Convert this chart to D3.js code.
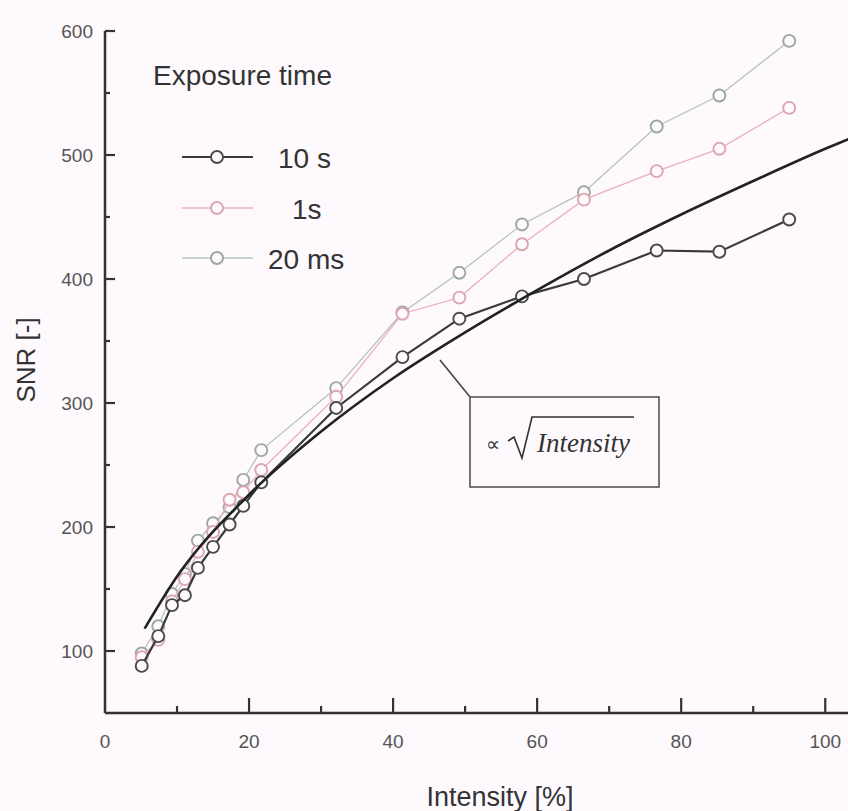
<!DOCTYPE html>
<html>
<head>
<meta charset="utf-8">
<script src="https://cdn.jsdelivr.net/npm/d3@7"></script>
<style>
  html, body { margin: 0; padding: 0; background: #fdf9fd; }
  svg { display: block; }
</style>
</head>
<body>
<svg id="chart" width="848" height="811"></svg>
<script>
// ---- data ----
const intensity = [5.1, 7.4, 9.3, 11.1, 12.9, 15.0, 17.3, 19.2, 21.7, 32.1, 41.3, 49.2, 57.9, 66.5, 76.6, 85.3, 95.0];
const snr10s   = [88, 112, 137, 145, 167, 184, 202, 217, 236, 296, 337, 368, 386, 400, 423, 422, 448];
const snr1s    = [95, 109, 140, 158, 180, 196, 222, 228, 246, 305, 372, 385, 428, 464, 487, 505, 538];
const snr20ms  = [98, 120, 146, 162, 189, 203, 216, 238, 262, 312, 373, 405, 444, 470, 523, 548, 592];
const seriesNames = ["10 s", "1s", "20 ms"];
const fitX = [5.5, 10, 20, 30, 40, 50, 60, 70, 80, 90, 100, 103.3];
const fitY = [118, 160, 226, 277, 320, 357, 391, 423, 452, 479, 505, 513];
const xTicks = [0, 20, 40, 60, 80, 100];
const xMinor = [10, 30, 50, 70, 90];
const yTicks = [100, 200, 300, 400, 500, 600];
const yMinor = [150, 250, 350, 450, 550];

const svg = d3.select("#chart");
svg.append("rect").attr("width", 848).attr("height", 811).attr("fill", "#fdf9fd");

const x = d3.scaleLinear().domain([0, 103.3]).range([105, 849]);
const y = d3.scaleLinear().domain([50, 600]).range([713, 31]);

const styles = [
  {line: "#3a3a3a", lw: 2.2, mark: "#4a4a4a"},
  {line: "#e9b2ba", lw: 1.3, mark: "#dba6ae"},
  {line: "#b5c4b8", lw: 1.3, mark: "#9aa89e"}
];
const series = [snr10s, snr1s, snr20ms];

const font = "'Liberation Sans', Arial, sans-serif";

// axes
const axisColor = "#333";
svg.append("line").attr("x1", x(0)).attr("x2", 848).attr("y1", y(50)).attr("y2", y(50))
  .attr("stroke", axisColor).attr("stroke-width", 2.5);
svg.append("line").attr("x1", x(0)).attr("x2", x(0)).attr("y1", y(50)).attr("y2", y(600))
  .attr("stroke", axisColor).attr("stroke-width", 2.5);

// x ticks (inward, upward)
svg.selectAll(".xt").data(xTicks.filter(d => d > 0)).enter().append("line")
  .attr("x1", d => x(d)).attr("x2", d => x(d)).attr("y1", y(50)).attr("y2", y(50) - 15)
  .attr("stroke", axisColor).attr("stroke-width", 2.2);
svg.selectAll(".xm").data(xMinor).enter().append("line")
  .attr("x1", d => x(d)).attr("x2", d => x(d)).attr("y1", y(50)).attr("y2", y(50) - 7)
  .attr("stroke", axisColor).attr("stroke-width", 2.2);
svg.selectAll(".xl").data(xTicks).enter().append("text")
  .attr("x", d => x(d)).attr("y", 748).attr("text-anchor", "middle")
  .attr("font-family", font).attr("font-size", 19).attr("fill", "#555")
  .text(d => d);

// y ticks (inward, to the right)
svg.selectAll(".yt").data(yTicks).enter().append("line")
  .attr("x1", x(0)).attr("x2", x(0) + 10).attr("y1", d => y(d)).attr("y2", d => y(d))
  .attr("stroke", axisColor).attr("stroke-width", 2.2);
svg.selectAll(".ym").data(yMinor).enter().append("line")
  .attr("x1", x(0)).attr("x2", x(0) + 5).attr("y1", d => y(d)).attr("y2", d => y(d))
  .attr("stroke", axisColor).attr("stroke-width", 2.2);
svg.selectAll(".yl").data(yTicks).enter().append("text")
  .attr("x", 93).attr("y", d => y(d) + 7).attr("text-anchor", "end")
  .attr("font-family", font).attr("font-size", 19).attr("fill", "#555")
  .text(d => d);

// axis titles
svg.append("text").attr("x", 500).attr("y", 806).attr("text-anchor", "middle")
  .attr("font-family", font).attr("font-size", 27).attr("fill", "#333")
  .text("Intensity [%]");
svg.append("text").attr("transform", "translate(35,360) rotate(-90)")
  .attr("text-anchor", "middle").attr("font-family", font).attr("font-size", 26).attr("fill", "#333")
  .text("SNR [-]");

// data lines
const lineGen = d3.line().x(d => x(d[0])).y(d => y(d[1]));
// draw order: 20 ms, 1 s, then 10 s and fit on top
[2, 1, 0].forEach(i => {
  const pts = intensity.map((v, k) => [v, series[i][k]]);
  svg.append("path").datum(pts).attr("d", lineGen).attr("fill", "none")
    .attr("stroke", styles[i].line).attr("stroke-width", styles[i].lw);
  svg.selectAll(null).data(pts).enter().append("circle")
    .attr("cx", d => x(d[0])).attr("cy", d => y(d[1])).attr("r", 6)
    .attr("fill", "#fdf9fd").attr("stroke", styles[i].mark).attr("stroke-width", 1.9);
});

// fit curve
const fitPts = fitX.map((v, k) => [v, fitY[k]]);
svg.append("path").datum(fitPts)
  .attr("d", d3.line().x(d => x(d[0])).y(d => y(d[1])).curve(d3.curveMonotoneX))
  .attr("fill", "none").attr("stroke", "#222").attr("stroke-width", 2.6);

// annotation box
svg.append("line").attr("x1", 440).attr("y1", 360).attr("x2", 470).attr("y2", 397)
  .attr("stroke", "#444").attr("stroke-width", 1.6);
svg.append("rect").attr("x", 470).attr("y", 397).attr("width", 189).attr("height", 90)
  .attr("fill", "none").attr("stroke", "#555").attr("stroke-width", 1.6);
svg.append("text").attr("x", 486).attr("y", 451).attr("font-family", "'Liberation Serif', serif")
  .attr("font-size", 20).attr("fill", "#333").text("\u221D");
svg.append("path").attr("d", "M508,441 L514,437 L522,458 L532,417 L634,417")
  .attr("fill", "none").attr("stroke", "#333").attr("stroke-width", 1.6);
svg.append("text").attr("x", 537).attr("y", 452).attr("font-family", "'Liberation Serif', serif")
  .attr("font-style", "italic").attr("font-size", 27).attr("fill", "#333").text("Intensity");

// legend
svg.append("text").attr("x", 153).attr("y", 85).attr("font-family", font).attr("font-size", 28)
  .attr("fill", "#333").text("Exposure time");
const legY = [157, 208, 258];
const legTextX = [278, 292, 268];
seriesNames.forEach((name, i) => {
  svg.append("line").attr("x1", 182).attr("x2", 253).attr("y1", legY[i]).attr("y2", legY[i])
    .attr("stroke", styles[i].line).attr("stroke-width", styles[i].lw);
  svg.append("circle").attr("cx", 217).attr("cy", legY[i]).attr("r", 6)
    .attr("fill", "#fdf9fd").attr("stroke", styles[i].mark).attr("stroke-width", 1.9);
  svg.append("text").attr("x", legTextX[i]).attr("y", legY[i] + 11).attr("font-family", font)
    .attr("font-size", 28).attr("fill", "#333")
    .text(name);
});
</script>
</body>
</html>
